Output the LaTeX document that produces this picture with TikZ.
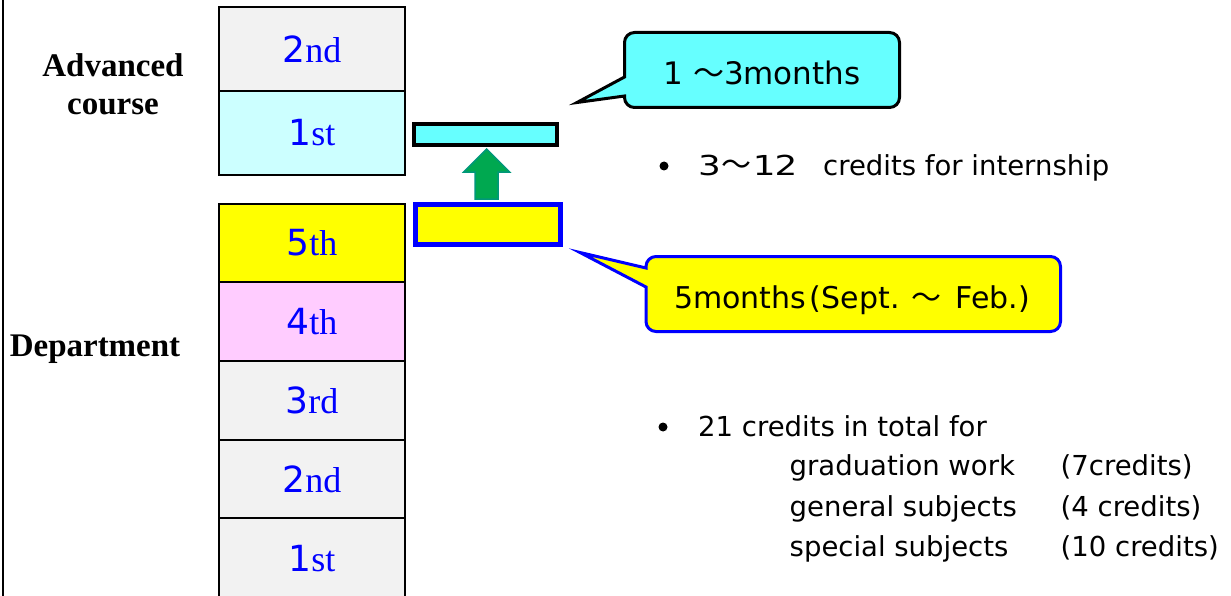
\documentclass[tikz,border=0pt]{standalone}
\usepackage{fontspec}
\usepackage{graphicx}
\usetikzlibrary{calc}
\newfontfamily\serifrm{Liberation Serif}
\newfontfamily\dejasf{DejaVu Sans}
\newfontfamily\jpsans{Noto Sans CJK JP}
\definecolor{boxgray}{HTML}{F2F2F2}
\definecolor{cyanlt}{HTML}{CCFFFF}
\definecolor{cyanbar}{HTML}{66FFFF}
\definecolor{yel}{HTML}{FFFF00}
\definecolor{pinklt}{HTML}{FFCCFF}
\definecolor{yeartext}{HTML}{0000FF}
\definecolor{arrowfill}{HTML}{00A850}
\definecolor{arrowedge}{HTML}{00987A}
\newcommand\yearlbl[2]{{\dejasf #1}{\serifrm #2}}
\newcommand\wavedash{{\jpsans ～}}
\begin{document}
\begin{tikzpicture}[x=1pt,y=-1pt,
  yearbox/.style={draw=black, line width=1.6pt, minimum width=186pt, inner sep=0pt, outer sep=0pt,
    text=yeartext, font=\fontsize{36}{40}\selectfont},
  sidelabel/.style={anchor=base, inner sep=0pt, font=\serifrm\bfseries\fontsize{33}{38}\selectfont},
  bodytext/.style={anchor=base west, inner sep=0pt, font=\dejasf\fontsize{27.5}{30}\selectfont},
  callouttext/.style={anchor=base, inner sep=0pt, font=\dejasf\fontsize{31}{36}\selectfont},
  bulletdot/.style={circle, fill=black, inner sep=0pt, minimum size=9pt},
  bar/.style={inner sep=0pt, outer sep=0pt}]
\useasboundingbox (0,0) rectangle (1231,596);
\clip (0,0) rectangle (1231,596);
\fill[white] (0,0) rectangle (1231,596);
% left frame line
\draw[line width=2.5pt] (3,-5) -- (3,600);

% side labels
\node[sidelabel] (advA) at (113,77) {Advanced};
\node[sidelabel] (advB) at (113,115) {course};
\node[sidelabel] (dept) at (95,356.7) {Department};

% year column
\node[yearbox, fill=boxgray, minimum height=84pt] (adv2) at (312,49) {\yearlbl{2}{nd}};
\node[yearbox, fill=cyanlt, minimum height=84pt] (adv1) at (312,133) {\yearlbl{1}{st}};
\node[yearbox, fill=yel, minimum height=78pt] (dep5) at (312,243) {\yearlbl{5}{th}};
\node[yearbox, fill=pinklt, minimum height=79pt] (dep4) at (312,321.5) {\yearlbl{4}{th}};
\node[yearbox, fill=boxgray, minimum height=79pt] (dep3) at (312,400.5) {\yearlbl{3}{rd}};
\node[yearbox, fill=boxgray, minimum height=78pt] (dep2) at (312,479) {\yearlbl{2}{nd}};
\node[yearbox, fill=boxgray, minimum height=82pt] (dep1) at (312,559) {\yearlbl{1}{st}};

% bars
\node[bar, draw=black, line width=4pt, fill=cyanbar, minimum width=143pt, minimum height=20.7pt] (cbar) at (485.5,134.4) {};
\node[bar, draw=yeartext, line width=5pt, fill=yel, minimum width=145pt, minimum height=40.3pt] (ybar) at (487.7,224.4) {};

% green block arrow from yellow bar to cyan bar
\coordinate (atip) at ($(cbar.south)+(1.2,4.3)$);
\coordinate (abot) at ($(ybar.north)+(0,-5.2)$);
\draw[line width=1.5pt, draw=arrowedge, fill=arrowfill, line join=miter]
  (atip) -- ++(23,23) -- ++(-11.5,0) coordinate (sr) -- (sr |- abot) -- ++(-23,0) coordinate (sl)
  -- (sl |- sr) -- ++(-11.5,0) -- cycle;

% callout 1
\draw[line width=3pt, fill=cyanbar, line join=miter]
  (624.5,77) -- (577,102.5) -- (624.5,96) -- (624.5,97.5) arc (180:90:10)
  -- (889.5,107.5) arc (90:0:10) -- (899.5,42.5) arc (0:-90:10)
  -- (634.5,32.5) arc (270:180:10) -- cycle;
\node[callouttext] (c1) at (762,85) {1 \wavedash3months};

% callout 2
\draw[line width=3pt, draw=yeartext, fill=yel, line join=miter]
  (646,268) -- (580,252.5) -- (646,287) -- (646,321.5) arc (180:90:10)
  -- (1050.5,331.5) arc (90:0:10) -- (1060.5,266.5) arc (0:-90:10)
  -- (656,256.5) arc (270:180:10) -- cycle;
\node[callouttext, font=\dejasf\fontsize{30}{36}\selectfont] (c2) at (852,308)
  {5months\kern3pt(\kern1pt Sept.\kern12pt\wavedash\kern14pt Feb.)};

% bullet 1
\node[bulletdot] (b1) at (664,166) {};
\node[bodytext] (t1a) at (698,176) {\scalebox{1.3}[1]{3}\kern1pt{\jpsans\fontsize{30}{30}\selectfont ～}\kern1pt\scalebox{1.3}[1]{1}\kern-1pt\scalebox{1.3}[1]{2}};
\node[bodytext] (t1b) at (823,176) {credits for internship};

% bullet 2
\node[bulletdot] (b2) at (663,427) {};
\node[bodytext] (t2) at (698,436) {21 credits in total for};
\node[bodytext] (g1) at (789.5,475) {graduation work};
\node[bodytext] (g2) at (789.5,516.7) {general subjects};
\node[bodytext] (g3) at (789.5,556.7) {special subjects};
\node[bodytext] (h1) at (1060.5,475) {(7credits)};
\node[bodytext] (h2) at (1060.5,516.7) {(4 credits)};
\node[bodytext] (h3) at (1060.5,556.7) {(10 credits)};
\end{tikzpicture}
\end{document}
